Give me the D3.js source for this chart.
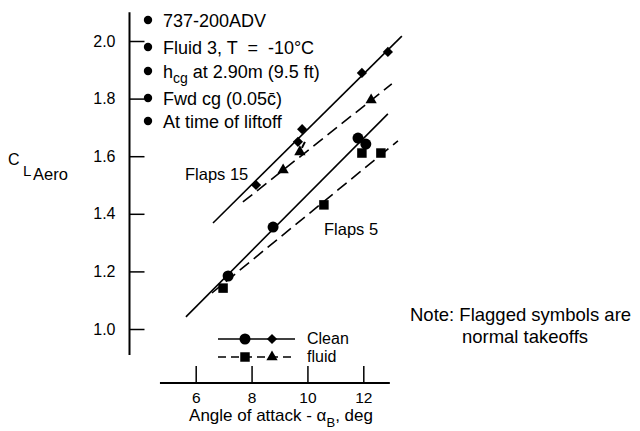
<!DOCTYPE html>
<html>
<head>
<meta charset="utf-8">
<script src="https://cdn.jsdelivr.net/npm/d3@7"></script>
<style>
  body { margin: 0; background: #fff; }
  svg { font-family: "Liberation Sans", Arial, Helvetica, sans-serif; }
  text { white-space: pre; }
</style>
</head>
<body>
<div id="chart"></div>
<script>
// angle of attack (deg) / CL aero
const flaps15Clean = [[8.16, 1.50], [9.66, 1.65], [9.81, 1.694], [11.95, 1.889], [12.88, 1.962]];
const flaps15Fluid = [[9.13, 1.552], [9.73, 1.615], [12.28, 1.795]];
const flaps5Clean  = [[7.16, 1.184], [8.77, 1.354], [11.81, 1.663], [12.09, 1.642]];
const flaps5Fluid  = [[6.98, 1.142], [10.59, 1.431], [11.95, 1.611], [12.63, 1.611]];

// flagged = normal takeoffs
const flaggedFluid15 = [false, true, false];
const flaggedFluid5  = [false, false, true, false];

// fitted lines (start, end)
const fit15Clean = [[6.62, 1.368], [13.38, 2.017]];
const fit15Fluid = [[7.69, 1.441], [13.02, 1.851]];
const fit5Clean  = [[5.65, 1.042], [12.88, 1.747]];
const fit5Fluid  = [[6.58, 1.125], [13.24, 1.653]];

const xTicks = [6, 8, 10, 12];
const yTicks = [1.0, 1.2, 1.4, 1.6, 1.8, 2.0];
const xExtent = [4.72, 12.95];
const yExtent = [0.91, 2.10];

const notes = ["737-200ADV", "Fluid 3, T  =  -10°C", "h|cg| at 2.90m (9.5 ft)", "Fwd cg (0.05c\u0304)", "At time of liftoff"];

const width = 640, height = 431;
const dashPattern = "12,6";

const svg = d3.select("#chart").append("svg")
    .attr("width", width)
    .attr("height", height);

const x = d3.scaleLinear().domain([6, 12]).range([195.7, 363.3]);
const y = d3.scaleLinear().domain([1.0, 2.0]).range([329, 41]);

const axisY0 = 383;
const axisX0 = 129.5;

// y axis
const yAxis = d3.axisLeft(y)
    .tickValues(yTicks)
    .tickFormat(d3.format(".1f"))
    .tickSize(-15)
    .tickPadding(14);

const gy = svg.append("g")
    .attr("transform", `translate(${axisX0},0)`)
    .call(yAxis);
gy.select(".domain").remove();
gy.selectAll("line").attr("stroke", "#000").attr("stroke-width", 1.5);
gy.selectAll("text").attr("font-size", "16px").attr("fill", "#000")
    .attr("font-family", "Liberation Sans, Arial, sans-serif");

svg.append("line")
    .attr("x1", axisX0).attr("x2", axisX0)
    .attr("y1", y(yExtent[1])).attr("y2", y(yExtent[0]))
    .attr("stroke", "#000").attr("stroke-width", 2);

// x axis
const xAxis = d3.axisBottom(x)
    .tickValues(xTicks)
    .tickFormat(d3.format("d"))
    .tickSize(-17)
    .tickPadding(9);

const gx = svg.append("g")
    .attr("transform", `translate(0,${axisY0})`)
    .call(xAxis);
gx.select(".domain").remove();
gx.selectAll("line").attr("stroke", "#000").attr("stroke-width", 1.5);
gx.selectAll("text").attr("font-size", "15.5px").attr("fill", "#000")
    .attr("font-family", "Liberation Sans, Arial, sans-serif");

svg.append("line")
    .attr("x1", x(xExtent[0])).attr("x2", x(xExtent[1]))
    .attr("y1", axisY0).attr("y2", axisY0)
    .attr("stroke", "#000").attr("stroke-width", 2);

// axis titles
const xt = svg.append("text")
    .attr("x", 281).attr("y", 421)
    .attr("text-anchor", "middle")
    .attr("font-size", "17px");
xt.append("tspan").text("Angle of attack - α");
xt.append("tspan").attr("font-size", "13px").attr("dy", 6).text("B");
xt.append("tspan").attr("dy", -6).text(", deg");

svg.append("text").attr("x", 8).attr("y", 165).attr("font-size", "16px").text("C");
svg.append("text").attr("x", 23).attr("y", 176).attr("font-size", "15px").text("L");
svg.append("text").attr("x", 33).attr("y", 180).attr("font-size", "16.5px").text("Aero");

// fitted lines
const line = d3.line().x(d => x(d[0])).y(d => y(d[1]));
const fits = [
    { pts: fit15Clean, dash: null },
    { pts: fit15Fluid, dash: dashPattern },
    { pts: fit5Clean, dash: null },
    { pts: fit5Fluid, dash: dashPattern }
];
svg.selectAll("path.fit")
    .data(fits)
    .enter().append("path")
    .attr("class", "fit")
    .attr("d", d => line(d.pts))
    .attr("fill", "none")
    .attr("stroke", "#000")
    .attr("stroke-width", 1.6)
    .attr("stroke-dasharray", d => d.dash);

// symbols
const sym = {
    circle: d3.symbol().type(d3.symbolCircle).size(95),
    square: d3.symbol().type(d3.symbolSquare).size(90),
    diamond: d3.symbol().type(d3.symbolSquare).size(52),
    triangle: d3.symbol().type(d3.symbolTriangle).size(55)
};

function drawPoints(data, kind, flags) {
    const g = svg.append("g");
    g.selectAll("path")
        .data(data)
        .enter().append("path")
        .attr("d", sym[kind]())
        .attr("fill", "#000")
        .attr("transform", d => `translate(${x(d[0])},${y(d[1])})` + (kind === "diamond" ? " rotate(45)" : ""));
    if (flags) {
        g.selectAll("line")
            .data(data.filter((d, i) => flags[i]))
            .enter().append("line")
            .attr("x1", d => x(d[0]) + 2).attr("y1", d => y(d[1]) - 4)
            .attr("x2", d => x(d[0]) + 5).attr("y2", d => y(d[1]) - 10)
            .attr("stroke", "#000").attr("stroke-width", 2);
    }
}

drawPoints(flaps15Clean, "diamond");
drawPoints(flaps15Fluid, "triangle", flaggedFluid15);
drawPoints(flaps5Clean, "circle");
drawPoints(flaps5Fluid, "square", flaggedFluid5);

// labels on curves
svg.append("text").attr("x", 185).attr("y", 180).attr("font-size", "16.5px").text("Flaps 15");
svg.append("text").attr("x", 324).attr("y", 235).attr("font-size", "16.5px").text("Flaps 5");

// conditions list
const rowY = [20, 47, 71, 98, 121];
const cond = svg.append("g");
notes.forEach((t, i) => {
    cond.append("circle").attr("cx", 148).attr("cy", rowY[i]).attr("r", 4.2).attr("fill", "#000");
    const tx = cond.append("text").attr("x", 163).attr("y", rowY[i] + 6.5).attr("font-size", "18px");
    const parts = t.split("|");
    parts.forEach((p, j) => {
        const ts = tx.append("tspan").text(p);
        if (j === 1) ts.attr("font-size", "14px").attr("dy", 5);
        if (j === 2) ts.attr("dy", -5);
    });
});

// legend
const legendRows = [
    { label: "Clean", dash: null, kinds: ["circle", "diamond"], cy: 339 },
    { label: "fluid", dash: "8,5", kinds: ["square", "triangle"], cy: 357 }
];
const lg = svg.append("g");
legendRows.forEach(r => {
    lg.append("line")
        .attr("x1", 218).attr("x2", 295)
        .attr("y1", r.cy).attr("y2", r.cy)
        .attr("stroke", "#000").attr("stroke-width", 1.6)
        .attr("stroke-dasharray", r.dash);
    r.kinds.forEach((k, i) => {
        lg.append("path")
            .attr("d", sym[k]())
            .attr("fill", "#000")
            .attr("transform", `translate(${i === 0 ? 245 : 272},${r.cy})` + (k === "diamond" ? " rotate(45)" : ""));
    });
    lg.append("text").attr("x", 307).attr("y", r.cy + 5).attr("font-size", "16px").text(r.label);
});

// note
svg.append("text").attr("x", 410).attr("y", 321).attr("font-size", "18.5px").text("Note: Flagged symbols are");
svg.append("text").attr("x", 525).attr("y", 343).attr("text-anchor", "middle").attr("font-size", "18.5px").text("normal takeoffs");
</script>
</body>
</html>
